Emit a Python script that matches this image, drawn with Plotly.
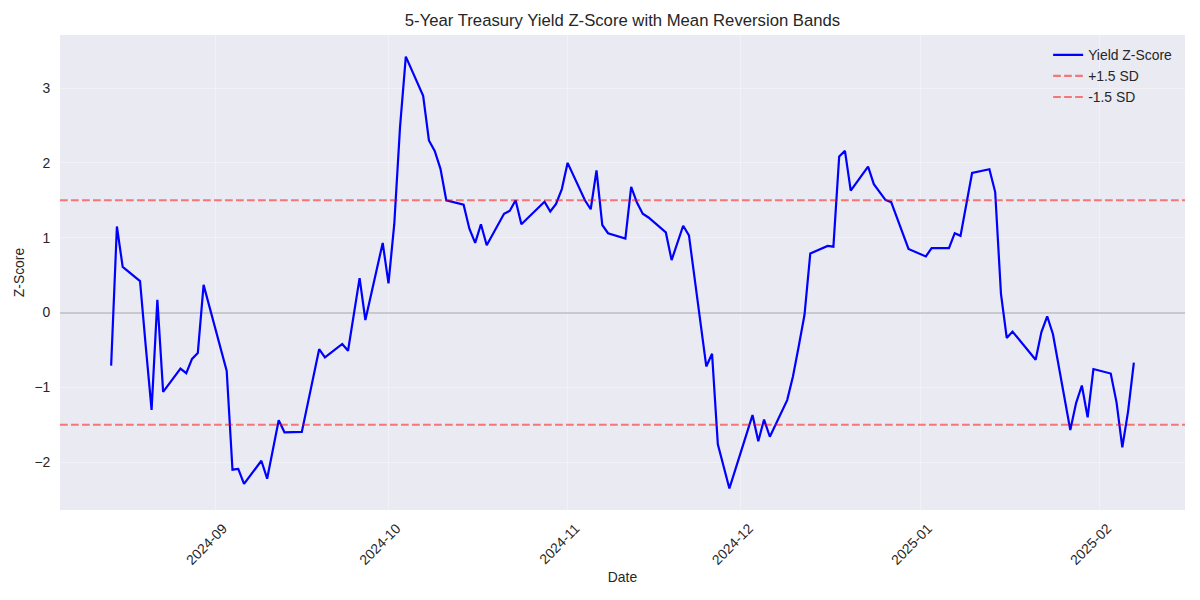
import pandas as pd
import plotly.graph_objects as go

dates = [
    "2024-08-14", "2024-08-15", "2024-08-16", "2024-08-19", "2024-08-20", "2024-08-21",
    "2024-08-22", "2024-08-23", "2024-08-26", "2024-08-27", "2024-08-28", "2024-08-29",
    "2024-08-30", "2024-09-03", "2024-09-04", "2024-09-05", "2024-09-06", "2024-09-09",
    "2024-09-10", "2024-09-12", "2024-09-13", "2024-09-16", "2024-09-19", "2024-09-20",
    "2024-09-23", "2024-09-24", "2024-09-26", "2024-09-27", "2024-09-30", "2024-10-01",
    "2024-10-02", "2024-10-03", "2024-10-04", "2024-10-07", "2024-10-08", "2024-10-09",
    "2024-10-10", "2024-10-11", "2024-10-14", "2024-10-15", "2024-10-16", "2024-10-17",
    "2024-10-18", "2024-10-21", "2024-10-22", "2024-10-23", "2024-10-24", "2024-10-28",
    "2024-10-29", "2024-10-30", "2024-10-31", "2024-11-01", "2024-11-04", "2024-11-05",
    "2024-11-06", "2024-11-07", "2024-11-08", "2024-11-11", "2024-11-12", "2024-11-13",
    "2024-11-14", "2024-11-15", "2024-11-18", "2024-11-19", "2024-11-21", "2024-11-22",
    "2024-11-25", "2024-11-26", "2024-11-27", "2024-11-29", "2024-12-03", "2024-12-04",
    "2024-12-05", "2024-12-06", "2024-12-09", "2024-12-10", "2024-12-11", "2024-12-12",
    "2024-12-13", "2024-12-16", "2024-12-17", "2024-12-18", "2024-12-19", "2024-12-20",
    "2024-12-23", "2024-12-24", "2024-12-26", "2024-12-27", "2024-12-30", "2024-12-31",
    "2025-01-02", "2025-01-03", "2025-01-06", "2025-01-07", "2025-01-08", "2025-01-10",
    "2025-01-13", "2025-01-14", "2025-01-15", "2025-01-16", "2025-01-17", "2025-01-21",
    "2025-01-22", "2025-01-23", "2025-01-24", "2025-01-27", "2025-01-28", "2025-01-29",
    "2025-01-30", "2025-01-31", "2025-02-03", "2025-02-04", "2025-02-05", "2025-02-06",
    "2025-02-07",
]

zscore = [
    -0.71, 1.15, 0.61, 0.42, -0.46, -1.30,
    0.17, -1.06, -0.75, -0.81, -0.62, -0.54,
    0.37, -0.78, -2.10, -2.09, -2.29, -1.98,
    -2.22, -1.44, -1.60, -1.595, -0.49, -0.60,
    -0.42, -0.51, 0.46, -0.10, 0.93, 0.39,
    1.18, 2.48, 3.42, 2.895, 2.30, 2.16,
    1.92, 1.50, 1.44, 1.12, 0.93, 1.18,
    0.90, 1.32, 1.36, 1.50, 1.18, 1.48,
    1.35, 1.45, 1.65, 2.00, 1.50, 1.38,
    1.90, 1.17, 1.06, 0.99, 1.68, 1.47,
    1.32, 1.27, 1.07, 0.70, 1.16, 1.03,
    -0.72, -0.55, -1.76, -2.35, -1.37, -1.72,
    -1.43, -1.66, -1.17, -0.855, -0.45, -0.03,
    0.79, 0.89, 0.88, 2.085, 2.16, 1.63,
    1.95, 1.715, 1.505, 1.475, 0.85, 0.815,
    0.75, 0.86, 0.86, 1.06, 1.025, 1.865,
    1.915, 1.61, 0.25, -0.34, -0.255, -0.63,
    -0.26, -0.05, -0.29, -1.57, -1.21, -0.975,
    -1.40, -0.755, -0.815, -1.20, -1.80, -1.32,
    -0.67,
]

upper_band = 1.5
lower_band = -1.5
series_names = ["Yield Z-Score", "+1.5 SD", "-1.5 SD"]

x = pd.to_datetime(dates)
xmin, xmax = x.min(), x.max()
xpad = (xmax - xmin) * 0.05
ymin, ymax = min(zscore), max(zscore)
ypad = (ymax - ymin) * 0.05

FONT = "Liberation Sans, Arial, sans-serif"
TXT = "#262626"
band_color = "rgba(255,0,0,0.5)"

fig = go.Figure()
fig.add_trace(go.Scatter(
    x=x, y=zscore, mode="lines", name=series_names[0],
    line=dict(color="#0000FF", width=2.2), legendrank=1,
))

fig.add_hline(y=upper_band, line=dict(color=band_color, width=2.1, dash="7.7px,3.3px"),
              showlegend=True, name=series_names[1], legendrank=2)
fig.add_hline(y=lower_band, line=dict(color=band_color, width=2.1, dash="7.7px,3.3px"),
              showlegend=True, name=series_names[2], legendrank=3)

fig.update_layout(
    width=1200, height=600,
    margin=dict(l=60, r=15, t=35, b=90),
    paper_bgcolor="white", plot_bgcolor="#EAEAF2",
    font=dict(family=FONT, color=TXT, size=13.9),
    title=dict(text="5-Year Treasury Yield Z-Score with Mean Reversion Bands",
               x=0.5, xref="paper", xanchor="center",
               y=1 - 20 / 600, yref="container", yanchor="middle",
               font=dict(size=16.7, color=TXT, family=FONT)),
    showlegend=True,
    legend=dict(x=0.993, xanchor="right", y=0.991, yanchor="top",
                bgcolor="rgba(0,0,0,0)", borderwidth=0,
                font=dict(size=13.9, color=TXT, family=FONT),
                itemwidth=30, tracegroupgap=0),
)

fig.update_xaxes(
    range=[xmin - xpad, xmax + xpad],
    tickformat="%Y-%m", dtick="M1", tick0="2024-09-01",
    tickangle=-45, showgrid=True, gridcolor="#F1F1F6", gridwidth=1,
    zeroline=False, showline=False,
    ticks="outside", ticklen=4, tickcolor="rgba(0,0,0,0)",
    ticklabelshift=8,
    title=dict(text="Date", standoff=5, font=dict(size=13.9, color=TXT)),
)
fig.update_yaxes(
    range=[ymin - ypad, ymax + ypad],
    dtick=1, tick0=0, showgrid=True, gridcolor="#F1F1F6", gridwidth=1,
    zeroline=True, zerolinecolor="rgb(200,200,206)", zerolinewidth=2,
    showline=False,
    ticks="outside", ticklen=6, tickcolor="rgba(0,0,0,0)",
    title=dict(text="Z-Score", standoff=6, font=dict(size=13.9, color=TXT)),
)

fig.write_html("out.html")
